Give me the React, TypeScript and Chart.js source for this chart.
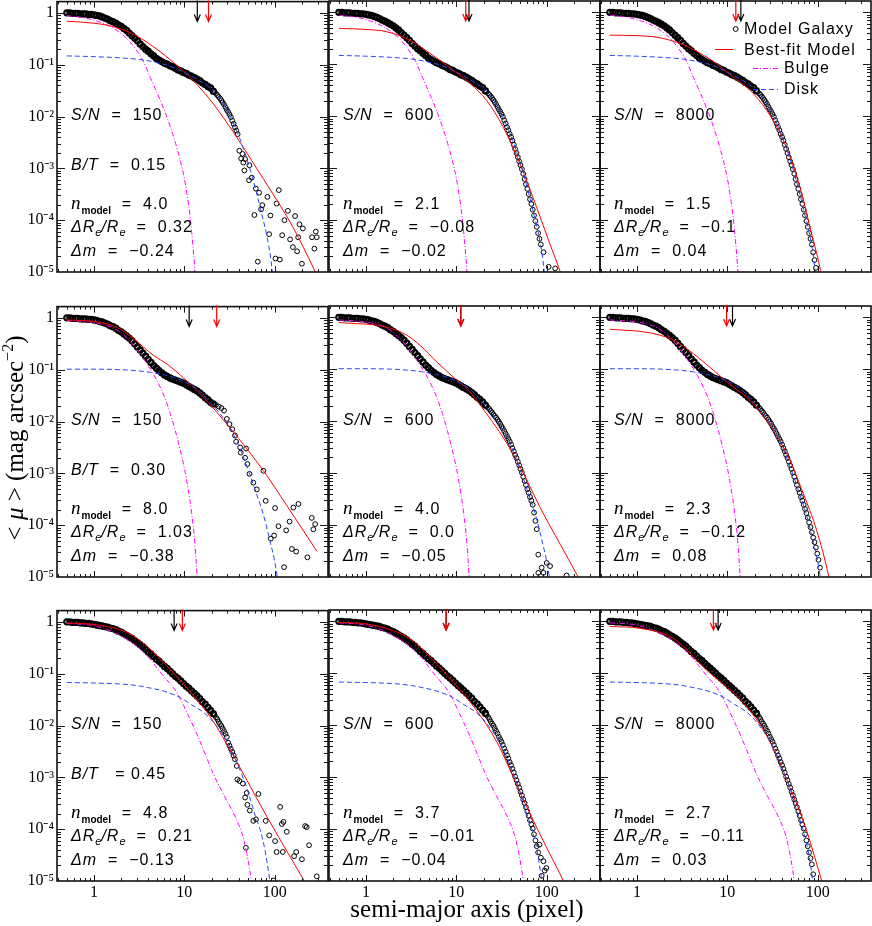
import React, { useEffect, useRef } from 'react';
import { Chart, registerables } from 'chart.js';

Chart.register(...registerables);

// ---------- DATA ----------
// semi-major axis grid (pixel) of the model-galaxy isophotes
const R = [
  0.50, 0.54, 0.58, 0.62, 0.66, 0.71, 0.76, 0.81, 0.87, 0.93,
  1.00, 1.07, 1.15, 1.23, 1.32, 1.41, 1.51, 1.62, 1.74, 1.86,
  2.00, 2.14, 2.29, 2.45, 2.63, 2.82, 3.02, 3.24, 3.47, 3.72,
  3.98, 4.27, 4.57, 4.90, 5.25, 5.62, 6.03, 6.46, 6.92, 7.41,
  7.94, 8.51, 9.12, 9.77, 10.5, 11.2, 12.0, 12.9, 13.8, 14.8,
  15.8, 17.0, 18.2, 19.5,
  20.9, 21.6, 22.4, 23.2, 24.0, 24.8, 25.7, 26.6, 27.5, 28.5,
  29.5, 30.5, 31.6, 32.7, 33.9, 35.1, 36.3, 37.6, 38.9, 40.3,
  41.7, 43.2, 44.7, 46.3, 47.9, 49.6, 51.3, 53.1, 55.0, 56.9,
  58.9, 61.0, 63.1, 65.3, 67.6, 70.0, 72.4, 75.0, 77.6, 80.3,
  83.2, 86.1, 89.1, 92.2, 95.5, 98.9, 102, 106,
];

// log10 <mu> of the model galaxy along R (rows: B/T = 0.15, 0.30, 0.45)
const galRow1 = [
  0.00, 0.00, -0.01, -0.01, -0.01, -0.02, -0.02, -0.02, -0.03, -0.03,
  -0.04, -0.05, -0.06, -0.08, -0.10, -0.12, -0.15, -0.17, -0.20, -0.23,
  -0.26, -0.30, -0.34, -0.39, -0.44, -0.49, -0.54, -0.60, -0.65, -0.70,
  -0.74, -0.79, -0.83, -0.88, -0.91, -0.94, -0.97, -0.99, -1.02, -1.04,
  -1.07, -1.10, -1.12, -1.15, -1.17, -1.20, -1.22, -1.25, -1.28, -1.31,
  -1.35, -1.38, -1.42, -1.45,
  -1.51, -1.53, -1.56, -1.59, -1.62, -1.65, -1.69, -1.73, -1.77, -1.82,
  -1.87, -1.91, -1.96, -2.01, -2.08, -2.14, -2.21, -2.27, -2.34, -2.40,
  -2.47, -2.55, -2.63, -2.71, -2.79, -2.87, -2.94, -3.02, -3.11, -3.21,
  -3.31, -3.40, -3.50, -3.60, -3.69, -3.80, -3.91, -4.02, -4.13, -4.25,
  -4.36, -4.47, -4.62, -4.77, -4.92, -5.10,
];
const galRow2 = [
  0.00, 0.00, -0.01, -0.01, -0.01, -0.02, -0.02, -0.02, -0.03, -0.03,
  -0.04, -0.05, -0.07, -0.08, -0.10, -0.12, -0.15, -0.17, -0.20, -0.24,
  -0.27, -0.31, -0.35, -0.39, -0.44, -0.50, -0.56, -0.62, -0.68, -0.74,
  -0.80, -0.86, -0.92, -0.97, -1.02, -1.06, -1.10, -1.13, -1.16, -1.18,
  -1.20, -1.22, -1.24, -1.26, -1.29, -1.32, -1.35, -1.38, -1.41, -1.45,
  -1.49, -1.54, -1.58, -1.63,
  -1.69, -1.71, -1.74, -1.77, -1.80, -1.83, -1.87, -1.90, -1.93, -1.97,
  -2.01, -2.05, -2.10, -2.14, -2.19, -2.24, -2.29, -2.34, -2.39, -2.45,
  -2.52, -2.58, -2.65, -2.71, -2.78, -2.85, -2.92, -2.99, -3.07, -3.15,
  -3.23, -3.31, -3.38, -3.46, -3.53, -3.61, -3.69, -3.77, -3.86, -3.95,
  -4.04, -4.14, -4.24, -4.33, -4.43, -4.55, -4.67, -4.82,
];
const galRow3 = [
  0.00, 0.00, -0.01, -0.01, -0.01, -0.02, -0.02, -0.03, -0.03, -0.04,
  -0.05, -0.06, -0.07, -0.08, -0.09, -0.10, -0.12, -0.13, -0.15, -0.18,
  -0.20, -0.23, -0.26, -0.29, -0.32, -0.36, -0.40, -0.44, -0.48, -0.53,
  -0.58, -0.62, -0.67, -0.72, -0.76, -0.81, -0.86, -0.90, -0.95, -1.00,
  -1.05, -1.09, -1.14, -1.19, -1.24, -1.28, -1.33, -1.38, -1.43, -1.48,
  -1.54, -1.59, -1.65, -1.71,
  -1.77, -1.80, -1.84, -1.88, -1.93, -1.97, -2.01, -2.06, -2.11, -2.16,
  -2.22, -2.27, -2.32, -2.38, -2.45, -2.51, -2.58, -2.64, -2.71, -2.77,
  -2.84, -2.91, -2.99, -3.06, -3.13, -3.20, -3.28, -3.35, -3.43, -3.50,
  -3.58, -3.66, -3.74, -3.83, -3.91, -3.99, -4.10, -4.22, -4.33, -4.45,
  -4.56, -4.68, -4.87, -5.05,
];

// noisy outer isophotes: [semi-major axis, log10 <mu>]
const tail11 = [
  [40.6, -2.66], [42.5, -2.81], [43.9, -2.72], [45.0, -2.89], [46.2, -3.04], [47.0, -2.82],
  [52.0, -3.23], [52.5, -2.94], [55.7, -3.18], [59.6, -3.90], [61.8, -3.39], [65.0, -4.80],
  [67.2, -3.47], [70.7, -3.79], [73.0, -3.71], [83.0, -3.55], [86.7, -4.27], [89.6, -3.91],
  [102, -4.74], [105, -3.68], [111, -3.42], [114, -4.76], [121, -4.29], [128, -4.00],
  [140, -3.82], [148, -4.37], [159, -4.52], [168, -3.92], [177, -4.60], [182, -4.33],
  [188, -4.08], [200, -4.84], [205, -4.16], [259, -4.33], [275, -4.55], [285, -4.22], [292, -4.33],
];
const tail12 = [[92.2, -4.62], [105, -4.90], [124, -4.93]];
const tail21 = [
  [20.9, -1.66], [22.4, -1.68], [24.0, -1.71], [25.7, -1.74], [27.5, -1.79], [29.5, -1.95],
  [31.6, -2.05], [33.9, -2.15], [36.3, -2.27], [37.4, -2.39], [41.4, -2.50], [42.1, -2.60],
  [47.0, -2.70], [48.2, -2.52], [49.9, -2.82], [52.5, -3.01], [58.0, -3.18], [63.4, -3.31],
  [75.0, -2.95], [79.5, -3.53], [90.5, -4.26], [98.5, -4.20], [101, -3.67], [110, -4.02],
  [127, -4.81], [134, -4.10], [146, -3.93], [155, -4.46], [161, -3.66], [173, -4.51],
  [183, -3.59], [230, -4.62], [257, -3.86], [268, -4.08], [280, -3.98],
];
const tail22 = [
  [72.4, -3.76], [75.0, -3.92], [77.6, -4.08], [80.7, -4.57], [80.7, -4.92], [88.0, -4.82],
  [92.0, -4.92], [100, -4.73], [109, -4.79], [166, -4.97],
];
const tail31 = [
  [30.5, -2.33], [31.6, -2.39], [32.7, -2.45], [33.9, -2.51], [35.1, -2.58], [36.3, -2.65],
  [38.0, -2.78], [38.6, -3.04], [40.7, -3.07], [44.4, -3.12], [47.0, -3.39], [48.0, -4.36],
  [49.0, -3.30], [49.9, -3.53], [53.0, -3.64], [58.0, -3.84], [62.2, -3.81], [66.0, -3.32],
  [79.5, -3.84], [87.0, -4.12], [97.0, -4.99], [101, -4.23], [105, -4.44], [115, -3.57],
  [120, -3.90], [123, -4.44], [125, -3.86], [136, -4.05], [164, -4.52], [173, -4.44],
  [200, -4.58], [217, -3.94], [226, -3.96], [240, -4.31], [292, -4.91],
];
const tail32 = [[83.2, -4.30], [86.1, -4.55], [88.0, -4.90], [92.0, -4.62], [95.0, -4.80], [99.0, -4.75]];

// bulge and disk components per row: [r, log10 <mu>]
const bulgeRow1 = [
  [0.5, -0.055], [0.75, -0.09], [1.0, -0.14], [1.3, -0.21], [1.65, -0.30], [2.0, -0.40],
  [2.5, -0.56], [3.0, -0.74], [3.55, -0.95], [4.2, -1.25], [5.0, -1.55], [6.0, -1.88],
  [7.0, -2.2], [8.0, -2.52], [9.0, -2.85], [10.0, -3.2], [10.7, -3.5], [11.6, -3.95],
  [12.3, -4.4], [13.0, -4.92], [13.5, -5.4],
];
const diskRow1 = [
  [0.5, -0.83], [1.0, -0.845], [2.0, -0.87], [3.2, -0.90], [5.0, -0.96], [7.0, -1.03],
  [10, -1.15], [14, -1.29], [20, -1.47], [25, -1.66], [32, -1.98], [42, -2.47], [54, -3.05],
  [70, -3.8], [86, -4.5], [93, -4.92], [97, -5.3],
];
const bulgeRow2 = [
  [0.5, -0.05], [1.0, -0.09], [1.4, -0.15], [1.7, -0.21], [2.0, -0.29], [2.5, -0.45],
  [3.0, -0.62], [3.5, -0.78], [4.0, -0.93], [5.0, -1.22], [6.0, -1.52], [7.0, -1.85],
  [8.0, -2.2], [9.0, -2.55], [10, -2.9], [11, -3.3], [12, -3.75], [13, -4.3], [13.8, -4.95], [14.3, -5.4],
];
const diskRow2 = [
  [0.5, -0.99], [1, -0.99], [2, -1.0], [3, -1.02], [4.2, -1.05], [6, -1.1], [8, -1.16],
  [10, -1.23], [14, -1.38], [20, -1.66], [28, -1.97], [38, -2.38], [50, -2.9], [63, -3.4],
  [75, -3.8], [90, -4.35], [100, -4.7], [108, -5.05],
];
const bulgeRow3 = [
  [0.5, -0.03], [1.0, -0.075], [1.65, -0.20], [2.75, -0.42], [3.9, -0.66], [5.9, -1.05],
  [7.8, -1.30], [9.0, -1.48], [11, -1.8], [13.8, -2.17], [17, -2.55], [21, -2.94],
  [25.7, -3.25], [29.7, -3.46], [33, -3.60], [38.4, -3.84], [42.7, -4.04], [45.5, -4.2],
  [49.4, -4.49], [53, -4.8], [55, -5.0], [57, -5.2],
];
const diskRow3 = [
  [0.5, -1.17], [1, -1.18], [2, -1.2], [3, -1.23], [4, -1.27], [6, -1.34], [9, -1.46],
  [12, -1.6], [16.4, -1.75], [22, -1.98], [30, -2.33], [40, -2.8], [50, -3.25], [60, -3.7],
  [70, -4.05], [78, -4.4], [85, -4.8], [90, -5.1],
];

// best-fit single Sersic models: [r, log10 <mu>]
const fit11 = [
  [0.5, -0.16], [1.0, -0.20], [1.5, -0.25], [2.72, -0.41], [4.95, -0.70], [7.6, -0.96],
  [12.6, -1.31], [21, -1.76], [34.8, -2.30], [58, -2.90], [96, -3.50], [161, -4.15], [268, -4.92], [300, -5.1],
];
const fit12 = [
  [0.5, -0.31], [1.0, -0.33], [1.7, -0.375], [3.07, -0.54], [5.1, -0.79], [9.3, -1.12],
  [14.2, -1.37], [21.7, -1.70], [33, -2.21], [50.7, -2.92], [77.5, -3.76], [109, -4.47], [140, -4.98], [150, -5.15],
];
const fit13 = [
  [0.5, -0.44], [1.0, -0.45], [1.65, -0.48], [3.0, -0.60], [5, -0.79], [7.6, -0.99],
  [11.6, -1.25], [17.8, -1.50], [27.3, -1.89], [41.8, -2.47], [63.7, -3.37], [82.3, -4.15], [106, -4.92], [112, -5.15],
];
const fit21 = [
  [0.5, -0.04], [1.0, -0.07], [1.78, -0.18], [2.6, -0.37], [3.5, -0.56], [4.6, -0.73],
  [6.4, -0.89], [9.8, -1.16], [14.9, -1.46], [22.9, -1.82], [40, -2.33], [75, -2.95], [136, -3.62], [292, -4.5],
];
const fit22 = [
  [0.5, -0.10], [1.7, -0.19], [2.8, -0.34], [3.96, -0.54], [6.07, -0.86], [10.1, -1.21],
  [13.0, -1.37], [21.7, -1.86], [36, -2.42], [55, -3.0], [84.5, -3.66], [141, -4.37], [215, -4.95], [230, -5.05],
];
const fit23 = [
  [0.5, -0.23], [1.4, -0.30], [2.52, -0.44], [4.2, -0.70], [7.0, -1.02], [11.6, -1.34],
  [16.4, -1.54], [27.3, -1.99], [45.5, -2.63], [69.5, -3.40], [97.7, -4.11], [131, -4.95], [136, -5.1],
];
const fit31 = [
  [0.5, -0.02], [1, -0.05], [2, -0.16], [3, -0.32], [5, -0.66], [8, -1.03], [12, -1.38],
  [20, -1.87], [35, -2.59], [82, -3.76], [150, -4.55], [212, -5.0], [230, -5.12],
];
const fit32 = [
  [0.5, -0.02], [1, -0.05], [2, -0.18], [3, -0.33], [5, -0.67], [8, -1.05], [12, -1.40],
  [16.8, -1.72], [28, -2.32], [42.7, -3.0], [65.5, -3.71], [100, -4.36], [153, -5.0], [160, -5.08],
];
const fit33 = [
  [0.5, -0.10], [1.08, -0.135], [2.52, -0.33], [5.9, -0.94], [13.8, -1.50], [21.2, -1.90],
  [32.4, -2.45], [49.4, -3.20], [75.7, -4.04], [111, -5.0], [116, -5.1],
];

// effective-radius markers (pixel), panels in reading order
const arrowBlack = [13.9, 13.8, 14.1, 11.3, 11.2, 11.4, 7.7, 7.7, 7.9];
const arrowRed = [18.5, 12.7, 12.4, 22.8, 11.2, 9.8, 9.5, 7.7, 7.0];

// annotation values
const snLabels = ['150', '600', '8000'];
const btLabels = ['0.15', '0.30', '0.45'];
const nModel = [['4.0', '2.1', '1.5'], ['8.0', '4.0', '2.3'], ['4.8', '3.7', '2.7']];
const dRe = [['0.32', '\u22120.08', '\u22120.1'], ['1.03', '0.0', '\u22120.12'], ['0.21', '\u22120.01', '\u22120.11']];
const dMag = [['\u22120.24', '\u22120.02', '0.04'], ['\u22120.38', '\u22120.05', '0.08'], ['\u22120.13', '\u22120.04', '0.03']];

// axes
const X_MIN = 0.389;
const X_MAX = 389;
const Y_MIN = 1e-5;
const Y_MAX = 1.65;
const xMajor = [1, 10, 100];
const xMajorLabels = ['1', '10', '100'];
const xTickValues = [0.4, 0.5, 0.6, 0.7, 0.8, 0.9, 1, 2, 3, 4, 5, 6, 7, 8, 9, 10, 20, 30, 40, 50, 60, 70, 80, 90, 100, 200, 300];
const yMajor = [1, 1e-1, 1e-2, 1e-3, 1e-4, 1e-5];
const yMajorLabels = ['1', '10\u207B\u00B9', '10\u207B\u00B2', '10\u207B\u00B3', '10\u207B\u2074', '10\u207B\u2075'];

// ---------- LAYOUT ----------
const PANEL_LEFT = [57, 329, 600];
const PANEL_TOP = [1, 306, 610];
const SIZE = 271;
const PAD_L = 57, PAD_T = 12, PAD_R = 4, PAD_B = 34;

const panels = [
  { r: 0, c: 0, gal: galRow1, cut: 73, tail: tail11, bulge: bulgeRow1, disk: diskRow1, fit: fit11 },
  { r: 0, c: 1, gal: galRow1, cut: 96, tail: tail12, bulge: bulgeRow1, disk: diskRow1, fit: fit12 },
  { r: 0, c: 2, gal: galRow1, cut: 200, tail: [], bulge: bulgeRow1, disk: diskRow1, fit: fit13 },
  { r: 1, c: 0, gal: galRow2, cut: 54, tail: tail21, bulge: bulgeRow2, disk: diskRow2, fit: fit21 },
  { r: 1, c: 1, gal: galRow2, cut: 90, tail: tail22, bulge: bulgeRow2, disk: diskRow2, fit: fit22 },
  { r: 1, c: 2, gal: galRow2, cut: 200, tail: [], bulge: bulgeRow2, disk: diskRow2, fit: fit23 },
  { r: 2, c: 0, gal: galRow3, cut: 65, tail: tail31, bulge: bulgeRow3, disk: diskRow3, fit: fit31 },
  { r: 2, c: 1, gal: galRow3, cut: 94, tail: tail32, bulge: bulgeRow3, disk: diskRow3, fit: fit32 },
  { r: 2, c: 2, gal: galRow3, cut: 200, tail: [], bulge: bulgeRow3, disk: diskRow3, fit: fit33 },
];

const near = (a: number, b: number) => Math.abs(a / b - 1) < 1e-6;
const isDecade = (v: number) => Math.abs(Math.log10(v) - Math.round(Math.log10(v))) < 1e-6;

const yTickValues: number[] = [];
yMajor.forEach((d) => {
  yTickValues.push(d);
  if (d < 1) for (let k = 2; k <= 9; k++) yTickValues.push(k * d);
});

const frameTicks = {
  id: 'frameTicks',
  afterDatasetsDraw(chart: any, _args: any, opts: any) {
    const { ctx, chartArea } = chart;
    const { left, right, top, bottom } = chartArea;
    const xs = chart.scales.x;
    const ys = chart.scales.y;
    ctx.save();
    ctx.strokeStyle = '#1a1a1a';
    ctx.lineWidth = 1;
    ctx.beginPath();
    xs.ticks.forEach((t: any) => {
      const px = Math.round(xs.getPixelForValue(t.value)) + 0.5;
      if (px <= left + 1 || px >= right - 1) return;
      const len = isDecade(t.value) ? 6 : 3;
      ctx.moveTo(px, bottom);
      ctx.lineTo(px, bottom - len);
      ctx.moveTo(px, top);
      ctx.lineTo(px, top + len);
    });
    ys.ticks.forEach((t: any) => {
      const py = Math.round(ys.getPixelForValue(t.value)) + 0.5;
      if (py <= top + 1 || py >= bottom - 1) return;
      const len = isDecade(t.value) ? 8 : 4;
      ctx.moveTo(left, py);
      ctx.lineTo(left + len, py);
      ctx.moveTo(right, py);
      ctx.lineTo(right - len, py);
    });
    ctx.stroke();
    ctx.lineWidth = 1.6;
    ctx.strokeStyle = '#111';
    ctx.strokeRect(left, top, right - left, bottom - top);
    // effective radius arrows
    (opts.arrows || []).forEach((a: any) => {
      const px = xs.getPixelForValue(a.x);
      ctx.strokeStyle = a.color;
      ctx.lineWidth = 1.2;
      ctx.beginPath();
      ctx.moveTo(px, top - 1);
      ctx.lineTo(px, top + 20);
      ctx.moveTo(px - 3, top + 13);
      ctx.lineTo(px, top + 20);
      ctx.lineTo(px + 3, top + 13);
      ctx.stroke();
    });
    ctx.restore();
  },
};

const toPts = (arr: number[][]) => arr.map(([r, l]) => ({ x: r, y: 10 ** l }));

// inner isophotes are so densely sampled in the original that the rings merge into a band
const innerRing = (c: any) => !!(c.raw && c.raw.x < 21);

function Panel({ p, idx }: { p: any; idx: number }) {
  const ref = useRef<HTMLCanvasElement>(null);
  useEffect(() => {
    const canvas = ref.current as HTMLCanvasElement;
    const galPts: { x: number; y: number }[] = [];
    const n = Math.min(p.cut, p.gal.length);
    for (let i = 0; i < n; i++) galPts.push({ x: R[i], y: 10 ** p.gal[i] });
    p.tail.forEach(([r, l]: number[]) => galPts.push({ x: r, y: 10 ** l }));
    const showY = p.c === 0;
    const showX = p.r === 2;
    const tickFont = { family: "'Liberation Serif', 'Times New Roman', serif", size: 16 };
    const chart = new Chart(canvas, {
      type: 'line',
      data: {
        datasets: [
          {
            label: 'Disk', data: toPts(p.disk), borderColor: '#2b44ff', borderWidth: 1,
            borderDash: [5, 3], pointRadius: 0, cubicInterpolationMode: 'monotone', fill: false, order: 1,
          },
          {
            label: 'Best-fit Model', data: toPts(p.fit), borderColor: '#ff0000', borderWidth: 1,
            pointRadius: 0, cubicInterpolationMode: 'monotone', fill: false, order: 2,
          },
          {
            label: 'Bulge', data: toPts(p.bulge), borderColor: '#ff00ff', borderWidth: 1,
            borderDash: [5, 2, 1, 2], pointRadius: 0, cubicInterpolationMode: 'monotone', fill: false, order: 3,
          },
          {
            label: 'Model Galaxy', data: galPts, showLine: false,
            pointRadius: (c: any) => (innerRing(c) ? 2.6 : 2.4),
            pointBorderWidth: (c: any) => (innerRing(c) ? 2.1 : 1),
            pointBorderColor: '#000', pointBackgroundColor: 'rgba(0,0,0,0)', borderColor: '#000',
            backgroundColor: 'rgba(0,0,0,0)', order: 4,
          },
        ],
      },
      options: {
        responsive: false,
        animation: false,
        events: [],
        layout: { padding: { left: 0, top: PAD_T, right: PAD_R, bottom: 0 }, autoPadding: false },
        plugins: {
          legend: { display: false },
          tooltip: { enabled: false },
          frameTicks: {
            arrows: [
              { x: arrowBlack[idx], color: '#000' },
              { x: arrowRed[idx], color: '#ff0000' },
            ],
          },
        },
        scales: {
          x: {
            type: 'logarithmic', min: X_MIN, max: X_MAX,
            grid: { display: false, drawTicks: false, tickLength: 0 }, border: { display: false },
            ticks: {
              display: showX, autoSkip: false, maxRotation: 0, padding: 2, color: '#000', font: tickFont,
              callback: (v: any) => {
                const i = xMajor.findIndex((m) => near(Number(v), m));
                return i >= 0 ? xMajorLabels[i] : '';
              },
            },
            afterBuildTicks: (s: any) => { s.ticks = xTickValues.map((v) => ({ value: v })); },
            afterFit: (s: any) => { s.height = PAD_B; },
          },
          y: {
            type: 'logarithmic', min: Y_MIN, max: Y_MAX,
            grid: { display: false, drawTicks: false, tickLength: 0 }, border: { display: false },
            ticks: {
              display: showY, autoSkip: false, padding: 3, color: '#000', font: tickFont,
              callback: (v: any) => {
                const i = yMajor.findIndex((m) => near(Number(v), m));
                return i >= 0 ? yMajorLabels[i] : '';
              },
            },
            afterBuildTicks: (s: any) => { s.ticks = yTickValues.map((v) => ({ value: v })); },
            afterFit: (s: any) => { s.width = PAD_L; },
          },
        },
      } as any,
      plugins: [frameTicks as any],
    });
    return () => chart.destroy();
  }, []);
  const w = PAD_L + SIZE + PAD_R;
  const h = PAD_T + SIZE + PAD_B;
  return (
    <canvas
      ref={ref}
      width={w}
      height={h}
      style={{
        position: 'absolute', left: PANEL_LEFT[p.c] - PAD_L, top: PANEL_TOP[p.r] - PAD_T,
        width: w, height: h, display: 'block',
      }}
    />
  );
}

const annFont: React.CSSProperties = {
  position: 'absolute',
  fontFamily: "'Liberation Sans', Arial, sans-serif",
  fontSize: 16,
  letterSpacing: '1px',
  lineHeight: '18px',
  color: '#000',
  whiteSpace: 'pre',
};

function Annotations({ r, c }: { r: number; c: number }) {
  const left = PANEL_LEFT[c] + 14;
  const top = PANEL_TOP[r];
  const line = (cy: number, content: React.ReactNode) => (
    <div style={{ ...annFont, left, top: top + cy - 9 }}>{content}</div>
  );
  const sub: React.CSSProperties = { fontSize: 11, position: 'relative', top: 4, letterSpacing: 0, fontStyle: 'italic' };
  return (
    <>
      {line(114, <><i>S/N</i>{'  =  ' + snLabels[c]}</>)}
      {c === 0 && line(164, <><i>B/T</i>{(r === 2 ? '   = ' : '  =  ') + btLabels[r]}</>)}
      {line(202, <>
        <i style={{ fontFamily: "'Liberation Serif', serif", fontSize: 19 }}>n</i>
        <span style={{ fontSize: 10, fontWeight: 'bold', position: 'relative', top: 5, letterSpacing: 0 }}>model</span>
        {'  =  ' + nModel[r][c]}
      </>)}
      {line(226, <>
        <i>ΔR</i><span style={sub}>e</span><i>/R</i><span style={sub}>e</span>
        {'  =  ' + dRe[r][c]}
      </>)}
      {line(250, <><i>Δm</i>{'  =  ' + dMag[r][c]}</>)}
    </>
  );
}

export default function App() {
  return (
    <div style={{ position: 'absolute', left: 0, top: 0, width: 872, height: 926, background: '#fff', overflow: 'hidden' }}>
      {panels.map((p, i) => <Panel key={i} p={p} idx={i} />)}
      {panels.map((p, i) => <Annotations key={'a' + i} r={p.r} c={p.c} />)}

      {/* legend */}
      <svg width={872} height={926} style={{ position: 'absolute', left: 0, top: 0, pointerEvents: 'none' }}>
        <circle cx={735.7} cy={29} r={2.4} fill="none" stroke="#000" strokeWidth={1} />
        <line x1={715} y1={49.5} x2={733} y2={49.5} stroke="#ff0000" strokeWidth={1} />
        <line x1={753} y1={68.5} x2={778} y2={68.5} stroke="#ff00ff" strokeWidth={1} strokeDasharray="5 2 1 2" />
        <line x1={753} y1={89.5} x2={778} y2={89.5} stroke="#2b44ff" strokeWidth={1} strokeDasharray="5 3" />
      </svg>
      <div style={{ ...annFont, left: 744, top: 20 }}>Model Galaxy</div>
      <div style={{ ...annFont, left: 744, top: 41 }}>Best-fit Model</div>
      <div style={{ ...annFont, left: 784, top: 59 }}>Bulge</div>
      <div style={{ ...annFont, left: 784, top: 80 }}>Disk</div>

      {/* axis titles */}
      <div style={{
        position: 'absolute', left: 267, width: 400, top: 895, textAlign: 'center',
        fontFamily: "'Liberation Serif', 'Times New Roman', serif", fontSize: 25, lineHeight: '28px', color: '#000',
        whiteSpace: 'nowrap',
      }}>semi-major axis (pixel)</div>
      <div style={{
        position: 'absolute', left: 16, top: 438, transform: 'translate(-50%, -50%) rotate(-90deg)',
        fontFamily: "'Liberation Serif', 'Times New Roman', serif", fontSize: 25, lineHeight: '28px', color: '#000',
        whiteSpace: 'pre',
      }}>
        {'< '}<i>μ</i>{' > (mag arcsec'}<span style={{ fontSize: 16, position: 'relative', top: -10 }}>−2</span>{')'}
      </div>
    </div>
  );
}
